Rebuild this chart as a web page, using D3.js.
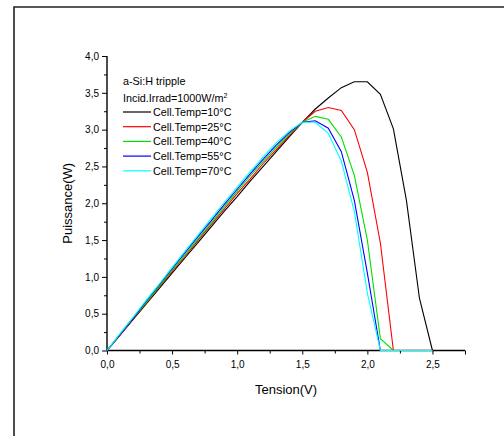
<!DOCTYPE html>
<html>
  <head>
    <meta charset="utf-8">
    <title>Puissance vs Tension</title>
    <script src="https://cdn.jsdelivr.net/npm/d3@7"></script>
    <style>
      body { margin: 0; background: #fff; }
      text { font-family: Arial, "Liberation Sans", sans-serif; fill: #000; }
    </style>
  </head>
  <body>
    <svg width="504" height="436" id="mainsvg"></svg>
    <script>
      // Data: voltage steps and power per temperature
      const tension = [0, 0.1, 0.2, 0.3, 0.4, 0.5, 0.6, 0.7, 0.8, 0.9, 1.0, 1.1, 1.2, 1.3, 1.4, 1.5,
                       1.6, 1.7, 1.8, 1.9, 2.0, 2.1, 2.2, 2.3, 2.4, 2.5];
      const p10 = [0, 0.21, 0.42, 0.63, 0.84, 1.05, 1.26, 1.47, 1.68, 1.89, 2.09, 2.30, 2.50, 2.70, 2.90, 3.10,
                   3.28, 3.43, 3.57, 3.65, 3.65, 3.48, 3.01, 2.04, 0.71, 0];
      const p25 = [0, 0.21, 0.43, 0.64, 0.86, 1.07, 1.28, 1.50, 1.71, 1.92, 2.13, 2.33, 2.54, 2.73, 2.92, 3.10,
                   3.25, 3.30, 3.26, 3.00, 2.42, 1.46, 0, 0, 0, 0];
      const p40 = [0, 0.22, 0.44, 0.65, 0.87, 1.09, 1.30, 1.52, 1.73, 1.95, 2.16, 2.37, 2.57, 2.76, 2.94, 3.10,
                   3.18, 3.14, 2.90, 2.38, 1.50, 0.16, 0, 0, 0, 0];
      const p55 = [0, 0.22, 0.44, 0.67, 0.89, 1.11, 1.33, 1.55, 1.76, 1.98, 2.19, 2.40, 2.60, 2.79, 2.96, 3.10,
                   3.12, 3.02, 2.70, 2.04, 1.05, 0, 0, 0, 0, 0];
      const p70 = [0, 0.23, 0.45, 0.68, 0.90, 1.13, 1.35, 1.57, 1.79, 2.01, 2.22, 2.43, 2.63, 2.82, 2.98, 3.10,
                   3.10, 2.95, 2.57, 1.89, 0.78, 0, 0, 0, 0, 0];
      const seriesNames = ['Cell.Temp=10°C', 'Cell.Temp=25°C', 'Cell.Temp=40°C', 'Cell.Temp=55°C', 'Cell.Temp=70°C'];
      const seriesColors = ['#000000', '#ff0000', '#00e000', '#0000ff', '#00ffff'];
      const seriesValues = [p10, p25, p40, p55, p70];
      const xTicks = [0, 0.5, 1.0, 1.5, 2.0, 2.5];
      const yTicks = [0, 0.5, 1.0, 1.5, 2.0, 2.5, 3.0, 3.5, 4.0];

      const svg = d3.select('#mainsvg');
      const margin = {top: 56, left: 107};
      const innerWidth = 358;
      const innerHeight = 294.5;

      // outer frame: only the top and left edges are inside the window
      svg.append('path')
        .attr('d', 'M14,436V7H504')
        .attr('fill', 'none').attr('stroke', '#222').attr('stroke-width', 1.6);

      const xScale = d3.scaleLinear().domain([0, 2.75]).range([0, innerWidth]);
      const yScale = d3.scaleLinear().domain([0, 4]).range([innerHeight, 0]);
      const fmt = d3.format('.1f');
      const comma = d => fmt(d).replace('.', ',');

      const g = svg.append('g')
        .attr('transform', `translate(${margin.left}, ${margin.top})`);

      // minor ticks
      const xMinor = d3.axisBottom(xScale).tickValues(d3.range(0.25, 2.75, 0.5)).tickSize(3).tickFormat('');
      const yMinor = d3.axisLeft(yScale).tickValues(d3.range(0.25, 4, 0.5)).tickSize(3).tickFormat('');
      g.append('g').attr('transform', `translate(0, ${innerHeight})`).call(xMinor)
        .selectAll('.domain').remove();
      g.append('g').call(yMinor).selectAll('.domain').remove();

      // major axes
      const xAxis = d3.axisBottom(xScale).tickValues(xTicks.concat([2.75])).tickSize(4).tickPadding(6)
        .tickFormat(d => d === 2.75 ? '' : comma(d));
      const yAxis = d3.axisLeft(yScale).tickValues(yTicks).tickSize(5).tickPadding(3).tickFormat(comma);

      const xAxisGroup = g.append('g').attr('transform', `translate(0, ${innerHeight})`).call(xAxis);
      const yAxisGroup = g.append('g').call(yAxis);
      [xAxisGroup, yAxisGroup].forEach(a => {
        a.select('.domain').attr('stroke-width', 1.4);
        a.selectAll('.tick line').attr('stroke-width', 1);
        a.selectAll('.tick text').style('font-size', '10px');
      });
      xAxisGroup.select('.domain').attr('d', `M0,0H${innerWidth}`);
      yAxisGroup.select('.domain').attr('d', `M0,${innerHeight}V0`);

      // curves
      const line = d3.line()
        .x((d, i) => xScale(tension[i]))
        .y(d => yScale(d));
      seriesValues.forEach((vals, k) => {
        g.append('path')
          .datum(vals)
          .attr('d', line)
          .attr('fill', 'none')
          .attr('stroke', seriesColors[k])
          .attr('stroke-width', 1.1);
      });

      // axis titles
      svg.append('text')
        .attr('x', margin.left + innerWidth / 2).attr('y', 394)
        .attr('text-anchor', 'middle').style('font-size', '13px')
        .text('Tension(V)');
      svg.append('text')
        .attr('transform', `translate(72, ${margin.top + innerHeight / 2}) rotate(-90)`)
        .attr('text-anchor', 'middle').style('font-size', '13px')
        .text('Puissance(W)');

      // legend
      const lg = svg.append('g');
      lg.append('text').attr('x', 123).attr('y', 85).style('font-size', '10.8px').text('a-Si:H tripple');
      const irr = lg.append('text').attr('x', 123).attr('y', 102).style('font-size', '10.8px');
      irr.append('tspan').text('Incid.Irrad=1000W/m');
      irr.append('tspan').attr('dy', -4).style('font-size', '7px').text('2');
      seriesNames.forEach((name, k) => {
        const y = 112 + k * 14.7;
        lg.append('line')
          .attr('x1', 123).attr('x2', 151).attr('y1', y).attr('y2', y)
          .attr('stroke', seriesColors[k]).attr('stroke-width', 1.2);
        lg.append('text').attr('x', 153).attr('y', y + 4)
          .style('font-size', '10.8px').text(name);
      });
    </script>
  </body>
</html>
